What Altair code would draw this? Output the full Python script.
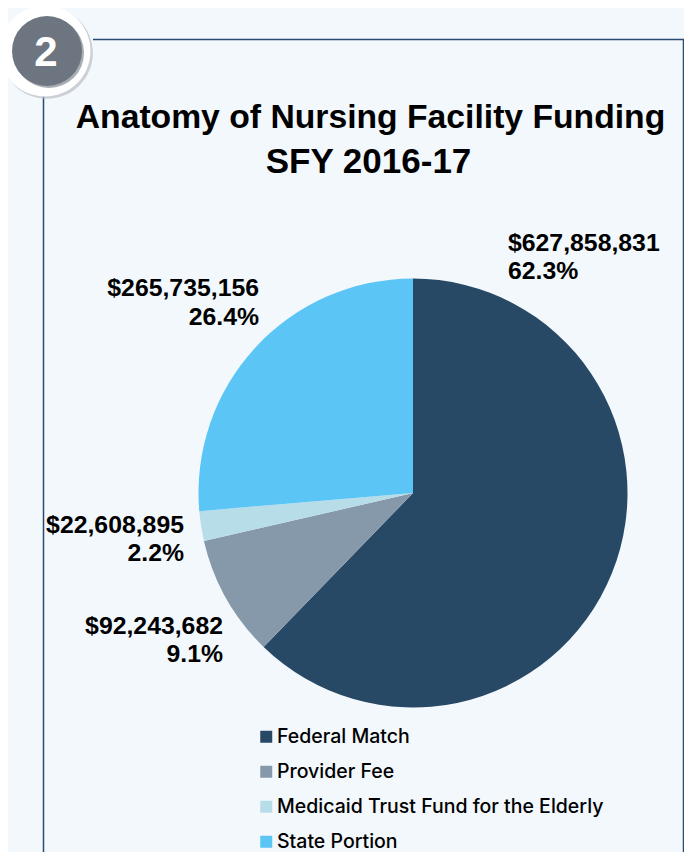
import altair as alt
import pandas as pd

categories = ["Federal Match", "Provider Fee", "Medicaid Trust Fund for the Elderly", "State Portion"]
amounts = [627858831, 92243682, 22608895, 265735156]
percents = ["62.3%", "9.1%", "2.2%", "26.4%"]
colors = ["#284966", "#8699ab", "#b7dde9", "#5bc5f5"]
title_lines = ["Anatomy of Nursing Facility Funding", "SFY 2016-17"]
badge = "2"

df = pd.DataFrame({"category": categories, "amount": amounts, "rank": list(range(len(categories)))})

BG = "#f3f8fd"
FRAME = "#2b4a72"
one = pd.DataFrame({"a": [0]})

pie = alt.Chart(df).mark_arc(radius=214.5, stroke=None).encode(
    theta=alt.Theta("amount:Q", stack=True),
    order=alt.Order("rank:O"),
    color=alt.Color("category:N", scale=alt.Scale(domain=categories, range=colors), sort=categories,
                    legend=alt.Legend(title=None, orient="none", legendX=248.5, legendY=719,
                                      symbolType="square", symbolSize=144, symbolStrokeWidth=0,
                                      labelFont="Inter", labelFontSize=19.5, labelFontWeight=500, labelColor="#000000",
                                      rowPadding=14, labelLimit=400, labelOffset=1)),
    x=alt.value(405), y=alt.value(485),
)

def rule(x, x2, y, y2):
    return alt.Chart(one).mark_rule(color=FRAME, strokeWidth=1.5).encode(
        x=alt.value(x), x2=alt.value(x2), y=alt.value(y), y2=alt.value(y2))

def text(s, x, y, size, font, align="center", color="#000000", weight="bold"):
    return alt.Chart(pd.DataFrame({"t": [s]})).mark_text(
        font=font, fontSize=size, fontWeight=weight, align=align, baseline="alphabetic", color=color
    ).encode(text="t:N", x=alt.value(x), y=alt.value(y))

def dot(x, y, size, color, opacity=1.0):
    return alt.Chart(one).mark_point(filled=True, shape="circle", size=size, color=color, opacity=opacity).encode(
        x=alt.value(x), y=alt.value(y))

FONT = "Liberation Sans"
LS = 24.8
labels = [
    text(f"${amounts[0]:,}", 500, 242.5, LS, FONT, "left"),
    text(percents[0], 500, 271, LS, FONT, "left"),
    text(f"${amounts[3]:,}", 251, 288, LS, FONT, "right"),
    text(percents[3], 251, 317, LS, FONT, "right"),
    text(f"${amounts[2]:,}", 176, 524.5, LS, FONT, "right"),
    text(percents[2], 176, 553, LS, FONT, "right"),
    text(f"${amounts[1]:,}", 215, 625.5, LS, FONT, "right"),
    text(percents[1], 215, 653.5, LS, FONT, "right"),
]

chart = alt.layer(
    rule(85, 676, 31.5, 31.5),
    rule(675.5, 675.5, 31, 844),
    rule(35.5, 35.5, 88, 844),
    dot(39, 45, 8400, "#b9bec4", 0.7),
    dot(37, 43, 8281, "#ffffff"),
    dot(41, 45, 4900, "#a8adb4"),
    dot(39, 43, 4900, "#6d7580"),
    text(badge, 38, 58, 42, FONT, "center", "#ffffff"),
    text(title_lines[0], 362.5, 119.5, 33.7, FONT, "center"),
    text(title_lines[1], 360.5, 165, 35, FONT, "center"),
    pie,
    *labels,
).properties(
    width=676, height=844, background=BG, padding=0,
    autosize=alt.AutoSizeParams(type="none"),
).configure_view(stroke=None)

chart.save("out.html", embed_options={"renderer": "svg", "actions": False})
